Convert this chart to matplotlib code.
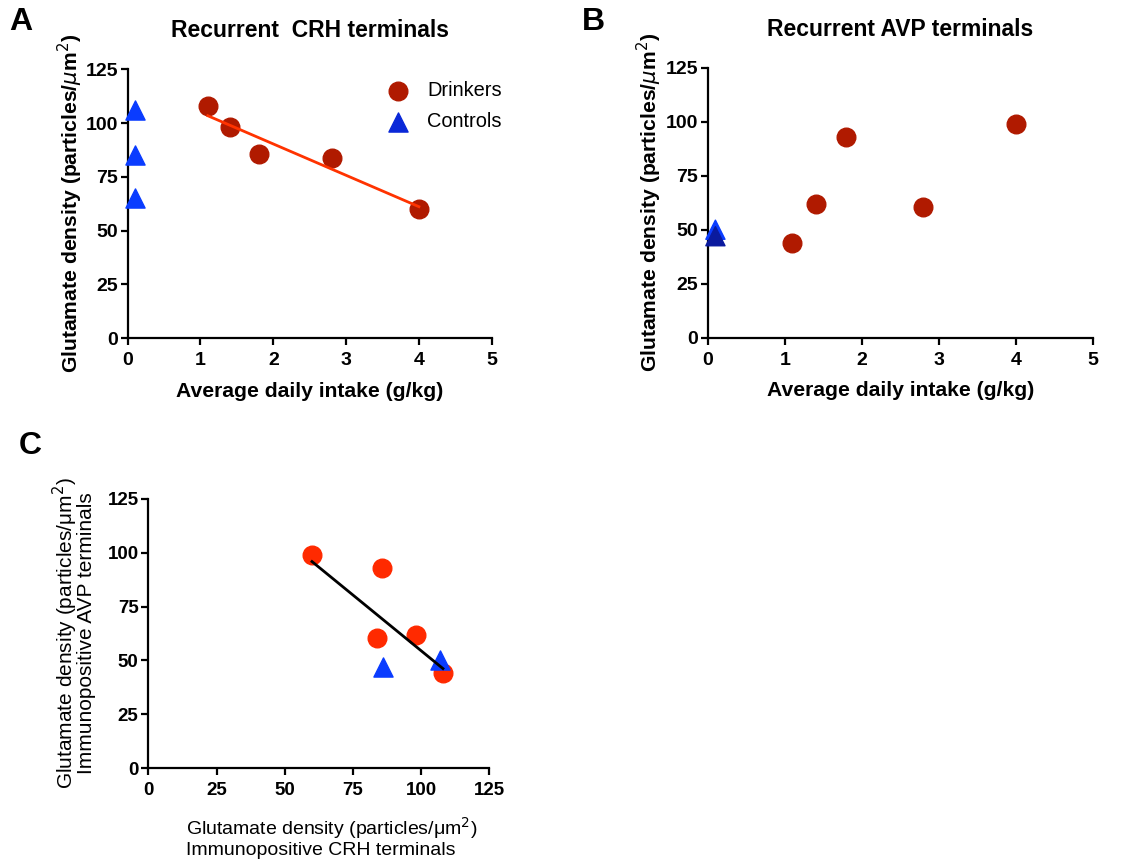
import matplotlib as mpl
mpl.use('Agg')
import matplotlib.pyplot as plt
import numpy as np

plt.rcParams['font.family'] = ['Liberation Sans', 'DejaVu Sans']
plt.rcParams['axes.linewidth'] = 1.6
plt.rcParams['xtick.major.width'] = 1.6
plt.rcParams['ytick.major.width'] = 1.6
plt.rcParams['xtick.major.size'] = 5
plt.rcParams['ytick.major.size'] = 5

# data
intake = [1.1, 1.4, 1.8, 2.8, 4.0]
crh_drinkers = [108, 98, 85.5, 84, 60]
avp_drinkers = [44, 62, 93, 60.5, 99]
ctrl_intake_crh = [0.1, 0.1, 0.1]
crh_controls = [106, 85, 65]
ctrl_intake_avp = [0.1, 0.1]
avp_controls = [50, 47]
# panel C: paired CRH / AVP densities
c_crh_drinkers = [60, 85.5, 84, 98, 108]
c_avp_drinkers = [99, 93, 60.5, 62, 44]
c_crh_controls = [107, 86]
c_avp_controls = [50, 47]

dark_red = '#B01A00'
bright_red = '#FF2A00'
blue = '#0A3CFF'
navy = '#0A1A9E'
ylab = r'Glutamate density (particles/$\mu$m$^2$)'

fig = plt.figure(figsize=(11.28, 8.67), dpi=100)


def style(ax, xmax, xticks, size=14):
    ax.spines['top'].set_visible(False)
    ax.spines['right'].set_visible(False)
    ax.set_ylim(0, 125)
    ax.set_yticks([0, 25, 50, 75, 100, 125])
    ax.set_xlim(0, xmax)
    ax.set_xticks(xticks)
    for lab in ax.get_xticklabels() + ax.get_yticklabels():
        lab.set_fontweight('bold')
        lab.set_fontsize(size)
    ax.tick_params(axis='y', pad=2)
    ax.tick_params(axis='x', pad=5)
    for s in ax.spines.values():
        s.set_clip_on(False)


# ---- A
axA = fig.add_axes([0.1132, 0.6098, 0.3227, 0.3103])
style(axA, 5, [0, 1, 2, 3, 4, 5])
axA.scatter(intake, crh_drinkers, s=180, color=dark_red, label='Drinkers', zorder=3, clip_on=False)
axA.scatter(ctrl_intake_crh, crh_controls, s=190, marker='^', color=blue, label='Controls', zorder=3, clip_on=False)
p = np.polyfit(intake, crh_drinkers, 1)
xs = np.array([min(intake), max(intake)])
axA.plot(xs, np.polyval(p, xs), color='#FF3300', lw=2, zorder=4)
axA.set_xlabel('Average daily intake (g/kg)', fontsize=15.2, fontweight='bold', labelpad=9)
axA.set_ylabel(ylab, fontsize=15.2, fontweight='bold', labelpad=0)
axA.set_title('Recurrent  CRH terminals', fontsize=16.5, fontweight='bold', pad=23)
leg = axA.legend(loc='upper left', bbox_to_anchor=(0.667, 0.985), frameon=False,
                 fontsize=14.4, handletextpad=0.45, labelspacing=0.6, borderaxespad=0)
leg.legend_handles[0].set_color(dark_red)
leg.legend_handles[1].set_color('#0A28D8')

# ---- B
axB = fig.add_axes([0.6274, 0.6105, 0.3416, 0.3114])
style(axB, 5, [0, 1, 2, 3, 4, 5])
axB.scatter(intake, avp_drinkers, s=180, color=dark_red, zorder=3, clip_on=False)
axB.scatter(ctrl_intake_avp, avp_controls, s=190, marker='^', color=[blue, navy], zorder=3, clip_on=False)
axB.set_xlabel('Average daily intake (g/kg)', fontsize=15.2, fontweight='bold', labelpad=9)
axB.set_ylabel(ylab, fontsize=15.2, fontweight='bold', labelpad=1)
axB.set_title('Recurrent AVP terminals', fontsize=16.5, fontweight='bold', pad=23)

# ---- C
axC = fig.add_axes([0.1315, 0.1138, 0.3023, 0.3110])
style(axC, 125, [0, 25, 50, 75, 100, 125], size=13.5)
axC.scatter(c_crh_drinkers, c_avp_drinkers, s=180, color=bright_red, zorder=3, clip_on=False)
axC.scatter(c_crh_controls, c_avp_controls, s=190, marker='^', color=blue, zorder=3, clip_on=False)
allx = c_crh_drinkers + c_crh_controls
ally = c_avp_drinkers + c_avp_controls
pc = np.polyfit(allx, ally, 1)
xc = np.array([min(allx), max(allx)])
axC.plot(xc, np.polyval(pc, xc), color='black', lw=2, zorder=4)
axC.set_ylabel('Glutamate density (particles/\u03bcm$^2$)\nImmunopositive AVP terminals',
               fontsize=15, labelpad=8, linespacing=0.85)
axC.set_xlabel('Glutamate density (particles/\u03bcm$^2$)\nImmunopositive CRH terminals',
               fontsize=14, ha='left', linespacing=1.05)
axC.xaxis.set_label_coords(0.11, -0.175)
axC.xaxis.label.set_va('top')

# panel letters
fig.text(0.008, 0.992, 'A', fontsize=23, fontweight='bold', va='top')
fig.text(0.516, 0.992, 'B', fontsize=23, fontweight='bold', va='top')
fig.text(0.017, 0.503, 'C', fontsize=23, fontweight='bold', va='top')

fig.savefig('out.png', dpi=100)
